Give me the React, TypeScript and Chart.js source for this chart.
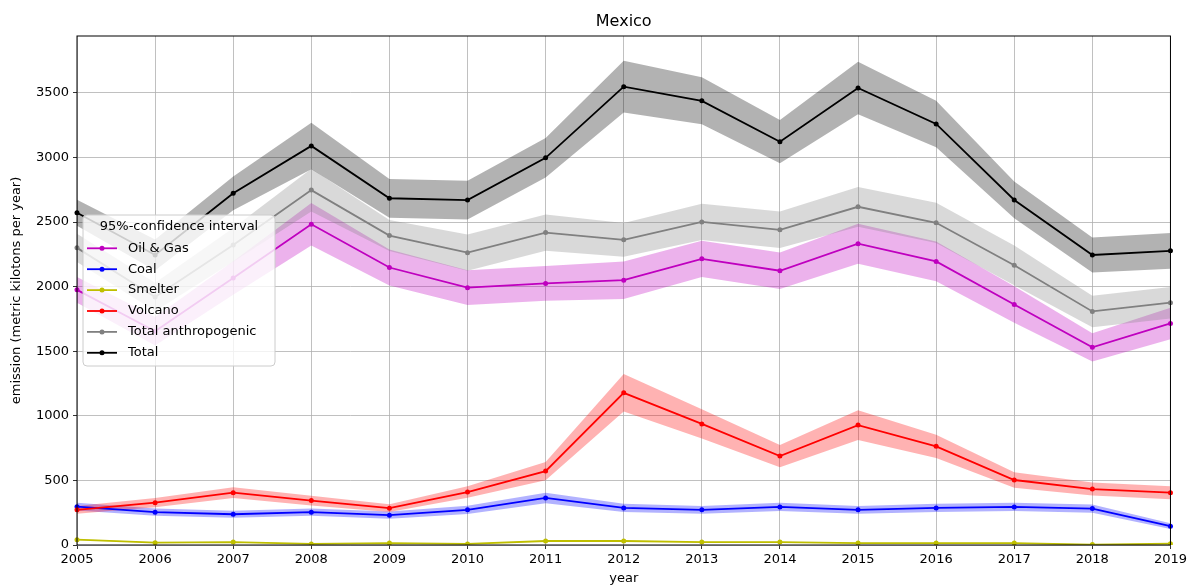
import React, { useEffect, useRef } from "react";
import { Chart, registerables } from "chart.js";

Chart.register(...registerables);

const years = ["2005", "2006", "2007", "2008", "2009", "2010", "2011", "2012", "2013", "2014", "2015", "2016", "2017", "2018", "2019"];

const oilGas = [1975, 1655, 2067, 2483, 2148, 1992, 2025, 2050, 2215, 2123, 2332, 2195, 1862, 1530, 1715];
const oilGasHalf = [100, 110, 130, 165, 140, 135, 134, 145, 141, 141, 155, 154, 141, 110, 122];

const coal = [297, 254, 238, 254, 231, 272, 364, 287, 272, 295, 272, 287, 295, 282, 146];
const coalHalf = [30, 28, 28, 28, 28, 32, 40, 32, 30, 32, 30, 32, 32, 32, 22];

const smelter = [41, 18, 23, 8, 15, 8, 31, 31, 23, 23, 15, 15, 15, 3, 10];
const smelterHalf = [5, 3, 3, 2, 3, 2, 4, 4, 3, 3, 3, 3, 3, 2, 2];

const volcano = [272, 328, 405, 344, 285, 410, 572, 1178, 937, 688, 928, 764, 503, 433, 405];
const volcanoHalf = [30, 35, 42, 38, 30, 45, 70, 145, 113, 86, 116, 90, 60, 50, 50];

const totalAnthro = [2300, 1920, 2323, 2747, 2395, 2263, 2418, 2362, 2501, 2440, 2618, 2494, 2165, 1808, 1876];
const totalAnthroHalf = [110, 110, 130, 165, 120, 140, 140, 130, 141, 141, 154, 156, 154, 122, 122];

const total = [2572, 2245, 2722, 3089, 2684, 2670, 2997, 3548, 3438, 3122, 3538, 3259, 2671, 2245, 2277];
const totalHalf = [100, 120, 130, 180, 150, 150, 153, 200, 182, 167, 203, 180, 142, 135, 139];

const yTicks = [0, 500, 1000, 1500, 2000, 2500, 3000, 3500];
const yMax = 3940;

const titleText = "Mexico";
const xTitle = "year";
const yTitle = "emission (metric kilotons per year)";
const legendTitle = "95%-confidence interval";

const FONT = "'DejaVu Sans', sans-serif";

const series = [
  { label: "Oil & Gas", data: oilGas, half: oilGasHalf, color: "#bf00bf", band: "rgba(191,0,191,0.3)" },
  { label: "Coal", data: coal, half: coalHalf, color: "#0000ff", band: "rgba(0,0,255,0.3)" },
  { label: "Smelter", data: smelter, half: smelterHalf, color: "#bfbf00", band: "rgba(191,191,0,0.3)" },
  { label: "Volcano", data: volcano, half: volcanoHalf, color: "#ff0000", band: "rgba(255,0,0,0.3)" },
  { label: "Total anthropogenic", data: totalAnthro, half: totalAnthroHalf, color: "#808080", band: "rgba(128,128,128,0.3)" },
  { label: "Total", data: total, half: totalHalf, color: "#000000", band: "rgba(0,0,0,0.3)" },
];

const decorPlugin = {
  id: "decor",
  afterDraw(chart: any) {
    const { ctx, chartArea } = chart;
    const { left, right, top, bottom } = chartArea;
    ctx.save();
    // frame
    ctx.strokeStyle = "#000";
    ctx.lineWidth = 1;
    ctx.strokeRect(left, top, right - left, bottom - top);

    // title
    ctx.fillStyle = "#000";
    ctx.font = `16px ${FONT}`;
    ctx.textAlign = "center";
    ctx.textBaseline = "middle";
    ctx.fillText(titleText, (left + right) / 2, top - 14);

    // x title
    ctx.font = `13px ${FONT}`;
    ctx.fillText(xTitle, (left + right) / 2, bottom + 34);

    // y title
    ctx.save();
    ctx.translate(17, (top + bottom) / 2);
    ctx.rotate(-Math.PI / 2);
    ctx.fillText(yTitle, 0, 0);
    ctx.restore();

    // legend
    const bx = left + 6;
    const by = top + 179;
    const bw = 192;
    const bh = 151;
    const r = 4;
    ctx.beginPath();
    ctx.moveTo(bx + r, by);
    ctx.lineTo(bx + bw - r, by);
    ctx.quadraticCurveTo(bx + bw, by, bx + bw, by + r);
    ctx.lineTo(bx + bw, by + bh - r);
    ctx.quadraticCurveTo(bx + bw, by + bh, bx + bw - r, by + bh);
    ctx.lineTo(bx + r, by + bh);
    ctx.quadraticCurveTo(bx, by + bh, bx, by + bh - r);
    ctx.lineTo(bx, by + r);
    ctx.quadraticCurveTo(bx, by, bx + r, by);
    ctx.closePath();
    ctx.fillStyle = "rgba(255,255,255,0.8)";
    ctx.fill();
    ctx.strokeStyle = "#cccccc";
    ctx.lineWidth = 1;
    ctx.stroke();

    ctx.fillStyle = "#000";
    ctx.font = `13px ${FONT}`;
    ctx.textAlign = "center";
    ctx.fillText(legendTitle, bx + bw / 2, by + 12);

    ctx.textAlign = "left";
    series.forEach((s, i) => {
      const y = by + 33.3 + i * 20.9;
      ctx.strokeStyle = s.color;
      ctx.lineWidth = 1.8;
      ctx.beginPath();
      ctx.moveTo(bx + 4, y);
      ctx.lineTo(bx + 34, y);
      ctx.stroke();
      ctx.fillStyle = s.color;
      ctx.beginPath();
      ctx.arc(bx + 19, y, 2.5, 0, Math.PI * 2);
      ctx.fill();
      ctx.fillStyle = "#000";
      ctx.fillText(s.label, bx + 45, y);
    });
    ctx.restore();
  },
};

export default function App() {
  const canvasRef = useRef<HTMLCanvasElement | null>(null);

  useEffect(() => {
    document.body.style.margin = "0";
    const canvas = canvasRef.current;
    if (!canvas) return;

    const datasets: any[] = [];
    series.forEach((s, i) => {
      datasets.push({
        label: s.label + " lower",
        data: s.data.map((v, j) => v - s.half[j]),
        borderWidth: 0,
        pointRadius: 0,
        fill: false,
        order: 100 - i,
      });
      datasets.push({
        label: s.label + " upper",
        data: s.data.map((v, j) => v + s.half[j]),
        borderWidth: 0,
        pointRadius: 0,
        backgroundColor: s.band,
        fill: 2 * i,
        order: 100 - i,
      });
    });
    series.forEach((s, i) => {
      datasets.push({
        label: s.label,
        data: s.data,
        borderColor: s.color,
        backgroundColor: s.color,
        borderWidth: 1.8,
        pointRadius: 2.5,
        pointBorderWidth: 0,
        pointBackgroundColor: s.color,
        fill: false,
        tension: 0,
        order: 10 - i,
      });
    });

    const chart = new Chart(canvas, {
      type: "line",
      data: { labels: years, datasets },
      options: {
        animation: false,
        responsive: true,
        maintainAspectRatio: false,
        layout: { padding: { top: 36, right: 19, left: 0, bottom: 0 } },
        plugins: {
          legend: { display: false },
          title: { display: false },
          tooltip: { enabled: false },
        },
        scales: {
          x: {
            type: "category",
            offset: false,
            grid: {
              color: "#b0b0b0",
              lineWidth: 0.8,
              drawTicks: true,
              tickLength: 4,
              tickColor: "#000",
              offset: false,
            },
            border: { display: false },
            ticks: {
              color: "#000",
              font: { family: FONT, size: 13 },
              padding: 3,
              maxRotation: 0,
              autoSkip: false,
            },
            afterFit: (s: any) => {
              s.height = 42;
            },
          },
          y: {
            type: "linear",
            min: 0,
            max: yMax,
            grid: {
              color: "#b0b0b0",
              lineWidth: 0.8,
              drawTicks: true,
              tickLength: 4,
              tickColor: "#000",
            },
            border: { display: false },
            ticks: {
              color: "#000",
              font: { family: FONT, size: 13 },
              padding: 4,
              autoSkip: false,
              callback: (v: any) => String(v),
            },
            afterBuildTicks: (s: any) => {
              s.ticks = yTicks.map((v) => ({ value: v }));
            },
            afterFit: (s: any) => {
              s.width = 77;
            },
          },
        },
      },
      plugins: [decorPlugin],
    });

    return () => chart.destroy();
  }, []);

  return (
    <div style={{ position: "relative", width: 1190, height: 587 }}>
      <canvas ref={canvasRef} />
    </div>
  );
}
